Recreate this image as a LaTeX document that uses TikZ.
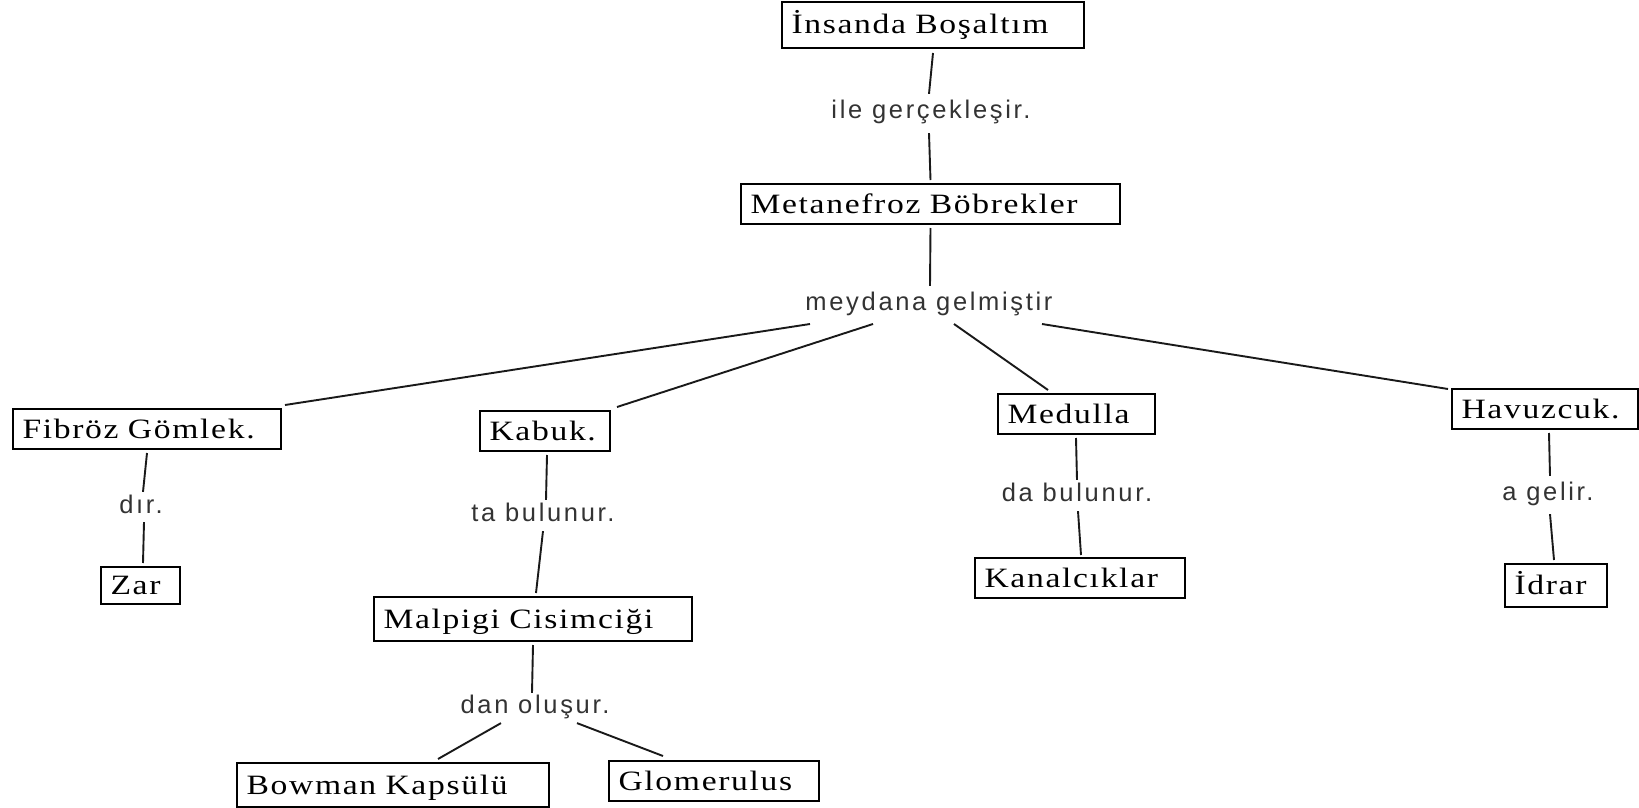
\documentclass[tikz,border=0pt]{standalone}
\usepackage{fontspec}
\newfontfamily\boxfont{Liberation Serif}[FakeStretch=1.2,LetterSpace=6]
\newfontfamily\linkfont{Liberation Sans}[LetterSpace=10.5]
\usetikzlibrary{calc}
\begin{document}
\begin{tikzpicture}[x=1pt,y=-1pt,
  concept/.style={draw=black, line width=2pt, fill=white, anchor=north west,
    inner xsep=9.5pt, inner ysep=0pt, align=left,
    text height=20pt, text depth=2pt,
    font=\boxfont\fontsize{28}{30}\selectfont},
  linkword/.style={inner sep=0pt, text height=18.4pt, text depth=5.4pt,
    text=black!80, font=\linkfont\fontsize{25.5}{28}\selectfont},
  edge/.style={line width=1.9pt, draw=black!90}]

% canvas
\fill[white] (0,0) rectangle (1639,808);
\useasboundingbox (0,0) rectangle (1639,808);

% concepts
\node[concept, minimum width=302pt, minimum height=46pt, text width=283pt] (ins) at (781,1) {\mbox{İnsanda Boşaltım}};
\node[concept, minimum width=379pt, minimum height=40pt, text width=360pt] (met) at (740,183) {\mbox{Metanefroz Böbrekler}};
\node[concept, minimum width=268pt, minimum height=40pt, text width=249pt] (fib) at (12,408) {\mbox{Fibröz Gömlek.}};
\node[concept, minimum width=130pt, minimum height=40pt, text width=111pt] (kab) at (479,410) {\mbox{Kabuk.}};
\node[concept, minimum width=157pt, minimum height=40pt, text width=138pt] (med) at (997,393) {\mbox{Medulla}};
\node[concept, minimum width=186pt, minimum height=40pt, text width=167pt] (hav) at (1451,388) {\mbox{Havuzcuk.}};
\node[concept, minimum width=79pt, minimum height=37pt, text width=60pt] (zar) at (100,566) {\mbox{Zar}};
\node[concept, minimum width=318pt, minimum height=44pt, text width=299pt] (mal) at (373,596) {\mbox{Malpigi Cisimciği}};
\node[concept, minimum width=210pt, minimum height=40pt, text width=191pt] (kan) at (974,557) {\mbox{Kanalcıklar}};
\node[concept, minimum width=102pt, minimum height=43pt, text width=83pt] (idr) at (1504,563) {\mbox{İdrar}};
\node[concept, minimum width=312pt, minimum height=44pt, text width=293pt] (bow) at (236,762) {\mbox{Bowman Kapsülü}};
\node[concept, minimum width=210pt, minimum height=40pt, text width=191pt] (glo) at (608,760) {\mbox{Glomerulus}};

% linking phrases
\node[linkword] (l1) at (931,112) {ile gerçekleşir.};
\node[linkword] (l2) at (929,304) {meydana gelmiştir};
\node[linkword] (l3) at (141,507) {dır.};
\node[linkword] (l4) at (543,515) {ta bulunur.};
\node[linkword] (l5) at (1077,495) {da bulunur.};
\node[linkword] (l6) at (1548,494) {a gelir.};
\node[linkword] (l7) at (535,707) {dan oluşur.};

% connectors
\draw[edge] ($(ins.south)+(0,4)$) -- ($(l1.north)+(-2,-6)$);
\draw[edge] ($(l1.south)+(-2,9)$) -- ($(met.north)+(0,-3)$);
\draw[edge] ($(met.south)+(0,3)$) -- ($(l2.north)+(1,-6)$);
\draw[edge] ($(l2.center)+(-119,20)$) -- ($(fib.north east)+(3,-3)$);
\draw[edge] ($(l2.center)+(-56,20)$) -- ($(kab.north east)+(6,-3)$);
\draw[edge] ($(l2.center)+(25,20)$) -- ($(med.north)+(-28.5,-3)$);
\draw[edge] ($(l2.center)+(113,20)$) -- ($(hav.north west)+(-3,1)$);
\draw[edge] ($(fib.south)+(0,3)$) -- ($(l3.north)+(2,-3)$);
\draw[edge] ($(l3.south)+(3,3)$) -- ($(zar.north)+(2.5,-3)$);
\draw[edge] ($(kab.south)+(2,3)$) -- ($(l4.north)+(3,-3)$);
\draw[edge] ($(l4.south)+(0,4)$) -- ($(mal.north)+(3,-3)$);
\draw[edge] ($(mal.south)+(0,3)$) -- ($(l7.north)+(-3,-2)$);
\draw[edge] ($(l7.south)+(-34,4)$) -- ($(bow.north)+(45,-3)$);
\draw[edge] ($(l7.south)+(42,4)$) -- ($(glo.north)+(-51,-4)$);
\draw[edge] ($(med.south)+(-0.5,3)$) -- ($(l5.north)+(0,-3)$);
\draw[edge] ($(l5.south)+(1,4)$) -- ($(kan.north)+(1,-2)$);
\draw[edge] ($(hav.south)+(4,3)$) -- ($(l6.north)+(2,-6)$);
\draw[edge] ($(l6.south)+(2,8)$) -- ($(idr.north)+(-2,-3)$);
\end{tikzpicture}
\end{document}
